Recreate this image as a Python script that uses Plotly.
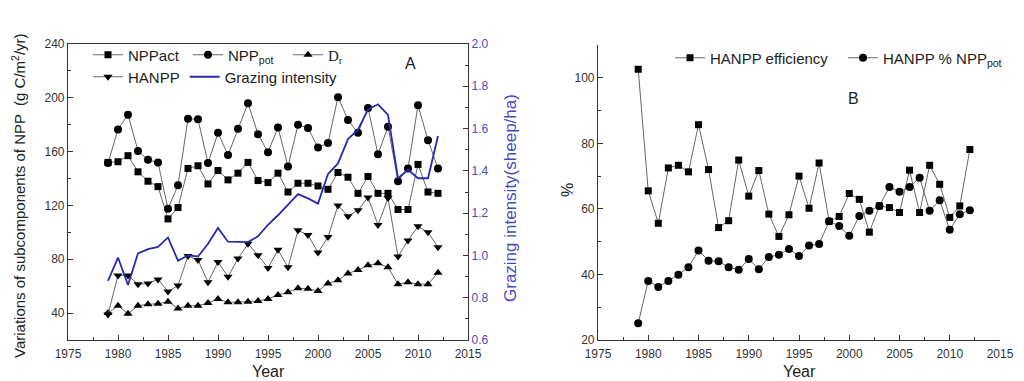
import plotly.graph_objects as go

years = list(range(1979, 2013))

npp_act = [152, 152.5, 157, 145, 138, 134, 110, 118.5, 147.5, 149.5,
           136, 146, 139, 144, 152, 138.5, 137, 144, 130, 136.5,
           136.5, 134.5, 132, 144.5, 141, 129, 141.5, 129, 129, 117,
           117, 150.5, 130, 129]
npp_pot = [151.5, 176.5, 187.5, 160.5, 154, 152, 117.5, 135, 184.5, 184,
           151.5, 174, 157.5, 177, 196, 173, 159.5, 178, 149, 180,
           177.5, 163, 166.5, 200.5, 183.5, 174, 192.5, 158, 178.5, 138,
           147.5, 194.5, 168.5, 147.5]
hanpp = [39, 68, 68, 61.5, 62, 65, 56, 60.5, 82.5, 79.5,
         63, 78, 67, 80.5, 91.5, 83, 73.5, 87, 74, 101.5,
         98, 85, 96.5, 120, 112, 116.5, 126, 105.5, 125.5, 82,
         94, 104.5, 100, 89]
dr = [40, 45.5, 39.5, 45.5, 46.5, 47, 48.5, 43.5, 45.5, 45.5,
      47.5, 50.5, 48, 48, 48.5, 49, 50.5, 53.5, 55.5, 58.5,
      58, 56.5, 62, 64.5, 69.5, 72, 75.5, 77, 74, 61.5,
      63, 61.5, 61.5, 70]
grazing = [0.88, 0.99, 0.86, 1.01, 1.03, 1.04, 1.085, 0.975, 1.0, 0.995,
           1.055, 1.13, 1.065, 1.063, 1.063, 1.09, 1.145, 1.19, 1.24, 1.29,
           1.27, 1.245, 1.385, 1.435, 1.55, 1.595, 1.69, 1.715, 1.665, 1.365,
           1.405, 1.365, 1.365, 1.565]
efficiency = [102.6, 65.5, 55.6, 72.5, 73.3, 71.3, 85.7, 72, 54.3, 56.4,
              74.9, 63.9, 71.7, 58.4, 51.6, 58.2, 70, 60.2, 74, 56.2,
              57.7, 64.7, 62.9, 52.9, 60.9, 60.4, 58.9, 71.8, 58.9, 73.3,
              67.5, 57.4, 60.9, 78.1]
hanpp_pct = [25.1, 38, 36.2, 38, 39.9, 42.2, 47.3, 44.2, 44, 42.2,
             41.4, 44.7, 41.6, 45.3, 46, 47.8, 45.6, 48.8, 49.3, 56.2,
             54.8, 51.8, 57.8, 59.4, 60.9, 66.7, 65.2, 66.7, 69.5, 59.4,
             62.6, 53.6, 58.4, 59.6]

FONT = "Liberation Sans, Arial, sans-serif"
LINE = dict(color="#666666", width=1)
BLUE = "#2a2ab0"
BLUE_TXT = "#4a4ac0"

fig = go.Figure()

def add(x, y, name, symbol, size, xa, ya, legend):
    fig.add_trace(go.Scatter(x=x, y=y, name=name, mode="lines+markers",
                             line=LINE, marker=dict(symbol=symbol, size=size, color="black"),
                             xaxis=xa, yaxis=ya, legend=legend))

add(years, npp_act, "NPPact", "square", 7, "x", "y", "legend")
add(years, npp_pot, "NPP<sub>pot</sub>", "circle", 8, "x", "y", "legend")
add(years, dr, '<span style="font-family:Liberation Serif">D<sub>r</sub></span>', "triangle-up", 8, "x", "y", "legend")
add(years, hanpp, "HANPP", "triangle-down", 8, "x", "y", "legend2")
fig.add_trace(go.Scatter(x=years, y=grazing, name="Grazing intensity", mode="lines",
                         line=dict(color=BLUE, width=1.8), xaxis="x", yaxis="y2", legend="legend2"))
add(years, efficiency, "HANPP efficiency", "square", 7, "x2", "y3", "legend3")
add(years, hanpp_pct, "HANPP % NPP<sub>pot</sub>", "circle", 8, "x2", "y3", "legend3")

W, H = 1024, 381
def px(x):
    return x / W
def py(y):
    return 1 - y / H

tickfont = dict(family=FONT, size=12, color="#333333")
axis_common = dict(showline=True, linecolor="#333333", linewidth=1.2, ticks="inside",
                   ticklen=5, tickcolor="#333333", showgrid=False, zeroline=False,
                   tickfont=tickfont, automargin=False)

xcommon = dict(axis_common, range=[1975, 2015], tick0=1975, dtick=5, ticklabelstandoff=2,
               minor=dict(ticks="inside", ticklen=3, dtick=2.5, tick0=1975, tickcolor="#333333", showgrid=False))

fig.update_layout(
    template="none",
    width=W, height=H, margin=dict(l=0, r=0, t=0, b=0, autoexpand=False),
    paper_bgcolor="white", plot_bgcolor="white",
    font=dict(family=FONT, color="#222222"),
    xaxis=dict(xcommon, domain=[px(68), px(468)], anchor="y", mirror=True),
    yaxis=dict(axis_common, domain=[py(340), py(44)], anchor="x", range=[20, 240],
               tick0=0, dtick=40,
               minor=dict(ticks="inside", ticklen=3, dtick=20, tick0=0, tickcolor="#333333", showgrid=False)),
    yaxis2=dict(axis_common, overlaying="y", side="right", anchor="x", range=[0.6, 2.0],
                tick0=0.6, dtick=0.2, tickformat=".1f",
                tickfont=dict(family=FONT, size=12, color=BLUE_TXT),
                minor=dict(ticks="inside", ticklen=3, dtick=0.1, tick0=0.6, tickcolor="#333333", showgrid=False)),
    xaxis2=dict(xcommon, domain=[px(598), px(1000)], anchor="y3"),
    yaxis3=dict(axis_common, domain=[py(340), py(45)], anchor="x2", range=[20, 110],
                tick0=20, dtick=20,
                minor=dict(ticks="inside", ticklen=3, dtick=10, tick0=20, tickcolor="#333333", showgrid=False)),
    legend=dict(x=px(88), y=py(55), xanchor="left", yanchor="middle", orientation="h",
                entrywidth=55, entrywidthmode="pixels", bgcolor="rgba(0,0,0,0)",
                font=dict(family=FONT, size=15, color="#222222"), tracegroupgap=0),
    legend2=dict(x=px(88), y=py(77), xanchor="left", yanchor="middle", orientation="h",
                 bgcolor="rgba(0,0,0,0)",
                 font=dict(family=FONT, size=15, color="#222222"), tracegroupgap=0),
    legend3=dict(x=px(670), y=py(58), xanchor="left", yanchor="middle", orientation="h",
                 entrywidth=128, entrywidthmode="pixels", bgcolor="rgba(0,0,0,0)",
                 font=dict(family=FONT, size=15, color="#222222"), tracegroupgap=0),
    showlegend=True,
)

ann = [
    dict(text="A", x=px(410), y=py(63), font=dict(size=16)),
    dict(text="B", x=px(853), y=py(98), font=dict(size=16)),
    dict(text="Year", x=px(268), y=py(371), font=dict(size=16)),
    dict(text="Year", x=px(799), y=py(371), font=dict(size=16)),
    dict(text="Variations of subcomponents of NPP  (g C/m<sup>2</sup>/yr)", x=px(18), y=py(196),
         textangle=-90, font=dict(size=15)),
    dict(text="Grazing intensity(sheep/ha)", x=px(510), y=py(198), textangle=-90,
         font=dict(size=17, color=BLUE_TXT)),
    dict(text="%", x=px(567), y=py(190), textangle=-90, font=dict(size=16)),
]
for a in ann:
    a.update(xref="paper", yref="paper", showarrow=False, xanchor="center", yanchor="middle")
    a["font"] = dict(family=FONT, color=a["font"].get("color", "#222222"), size=a["font"]["size"])
fig.update_layout(annotations=ann)

fig.write_html("out.html", config={"displayModeBar": False},
               post_script="document.body.style.margin='0';document.body.style.overflow='hidden';")
